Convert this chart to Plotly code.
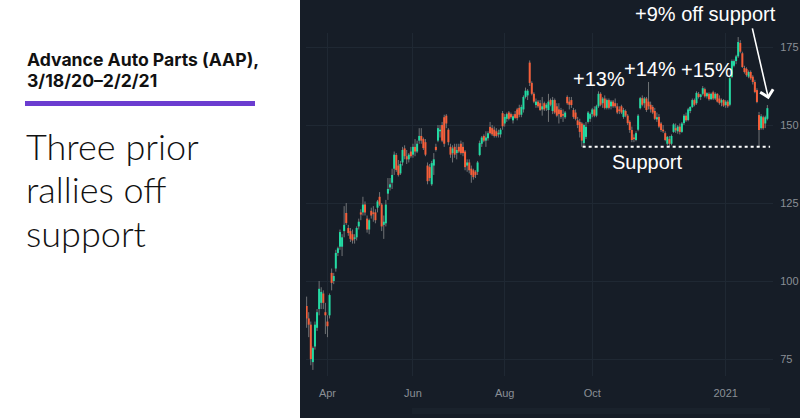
import pandas as pd
import plotly.graph_objects as go

# ---------------- data ----------------
holidays = ["2020-04-10", "2020-05-25", "2020-07-03", "2020-09-07",
            "2020-11-26", "2020-12-25", "2021-01-01", "2021-01-18"]

open_ = [92, 88, 86, 74, 79, 85, 91, 93, 96, 90, 87, 89, 102.6, 100, 104, 109, 111, 111, 116, 121.8,
         117, 116, 115, 113.5, 114, 117.5, 122, 122, 124.5, 120, 116.5, 122.5, 122, 122, 123.5, 127, 124.5, 118, 118.5, 128,
         130, 131.5, 136, 140.4, 137, 134.5, 138, 142.5, 140, 139, 141.5, 140.5, 143, 141.5, 145, 146.5, 145.5, 144.5, 137, 136.5,
         131, 137, 143, 145, 148, 150, 152.5, 153, 148.5, 143, 141, 143, 141, 143, 144, 143, 141.5, 137, 138, 136,
         135.5, 135, 135, 140.4, 144, 146.5, 145, 145.8, 149.4, 149, 148.5, 148, 147, 147, 153.8, 150.5, 152, 154, 153.5, 151.5,
         153.5, 155, 155.5, 153.3, 155, 159, 159.5, 170, 163.5, 160, 156.4, 157.5, 157, 155, 157, 155.5, 154.8, 158, 154.5, 158,
         156, 155, 154.8, 153.5, 152.5, 159, 157.5, 158, 154.8, 154, 151.5, 151, 150.5, 144.2, 146.2, 151, 152, 153.5, 155, 153,
         156, 160, 157, 158.5, 155.5, 158, 156, 157.5, 157, 156, 155, 156, 152.6, 154.5, 153, 151, 148.4, 146, 145.2, 148.5,
         155.4, 158.6, 157, 158.5, 157.5, 156.5, 155.8, 154.5, 151.8, 152.6, 150.5, 148.5, 147.4, 144, 145.5, 144, 147.8, 149, 148, 149.5,
         147.8, 150.6, 153, 151.6, 154.5, 155.8, 158, 157, 160, 159, 160, 161.5, 159.2, 160, 158.3, 160.5, 158.5, 160, 158.5, 157.2,
         158, 156.4, 157.5, 156.5, 165.4, 169, 170.5, 172, 176.3, 173, 168.3, 168, 165.5, 167, 165.5, 163.8, 161.2, 153.2, 149, 152.5,
         150.5, 152]
high = [95, 90, 87, 79, 87, 91, 100, 98, 97, 93, 89, 96, 104, 102.6, 110, 111, 116.5, 115, 124, 125,
        118, 117, 116.5, 115, 117.5, 120, 123, 127, 125.5, 121, 120, 123.5, 124, 123, 126, 128.5, 125, 121, 126, 133,
        133, 136, 141.5, 141, 138.8, 138.5, 143, 143.5, 142, 141, 143, 144, 145.5, 145, 149, 149, 146, 145.5, 138, 137.5,
        138.5, 141, 144, 150, 150, 151, 153.3, 153.5, 149, 144, 143.5, 144, 144, 144, 145, 144.5, 142, 139, 139, 137,
        136, 135.5, 138.5, 145, 146.5, 147, 148, 148, 151, 150, 149.5, 149, 148.5, 149, 154.5, 153.5, 154, 154.5, 154, 153.5,
        154.5, 155.5, 156.5, 156.5, 159.5, 162, 161.5, 170.7, 164, 160.5, 158.5, 158, 158, 159, 157.5, 157, 160, 158.5, 159, 158.5,
        157, 157, 155.5, 155, 154.5, 159.5, 159, 159, 155.5, 155, 152.6, 152, 151, 150.5, 151, 154.5, 154, 155.5, 156, 156.5,
        160.8, 160.5, 159, 159.5, 158.5, 158.5, 158, 158, 158.5, 157, 156, 156.5, 155.5, 155, 153.5, 151.5, 149.5, 147, 148, 153.5,
        159, 159.5, 159, 159, 163.8, 157.5, 156.4, 155.5, 154, 153.5, 151, 150, 148, 146.5, 146.5, 147, 150.6, 150.5, 150, 150.5,
        151, 153.5, 154, 155.5, 156, 158.5, 158.5, 160.8, 160.6, 160, 162.5, 162, 160.5, 160.5, 160.4, 161, 160.5, 160.2, 159.5, 158.5,
        158.3, 158, 158, 165.5, 171, 171, 172.5, 178.2, 177.2, 173.5, 169, 168.5, 167.5, 167.5, 166, 164.5, 161.8, 154.2, 153.5, 153,
        153, 156.4]
low = [85, 82, 73, 71.5, 78, 84, 89, 91, 91, 83, 82, 88, 97, 99, 103, 108, 110, 108, 114, 118,
       114.5, 112.5, 112, 112, 113, 116.5, 119.5, 121, 121, 115.5, 115, 120, 119, 118.5, 122, 124, 116, 113.5, 117.5, 126,
       129, 129.5, 134, 135, 133.5, 134, 137, 139, 137.5, 138, 139.5, 139.5, 140, 141, 144, 144, 142, 140, 131, 132,
       130.5, 134, 141.5, 144.5, 146, 144.5, 143, 149, 143.5, 139.5, 138, 139.5, 139, 141, 140.5, 140, 135.5, 135, 134.5, 131.5,
       132.5, 133, 134, 140, 143, 144.5, 143, 145, 147, 146.5, 146, 146, 146, 146, 148.5, 149.5, 151, 151.5, 152, 150.5,
       152, 151.5, 152.5, 152.5, 154, 158.5, 158, 162.5, 159.5, 157, 155.5, 155.5, 154.5, 153, 154.5, 154.5, 151, 156, 153.5, 153.5,
       152.5, 150.5, 152, 151, 152, 156.5, 155, 155.5, 152, 151.5, 149, 146, 143, 143, 145.5, 150.5, 151, 152.5, 152.5, 152.5,
       155.5, 156, 155.5, 155, 155, 155, 155, 155.5, 155.5, 153.5, 153.5, 153.5, 152, 152.5, 150, 147.5, 144.5, 144.5, 144.8, 148,
       155, 156, 155.5, 154.2, 155, 154, 153.5, 151.6, 151, 149, 147.8, 147.5, 144.8, 143.5, 143, 143.5, 147.5, 147.5, 147.2, 147,
       147.5, 150, 151, 151.2, 153.8, 155.5, 156, 156.5, 158.5, 158, 159.5, 158.8, 158.5, 157.8, 158, 158, 158, 157.2, 156.5, 156,
       155.8, 155.5, 155.5, 156, 165, 168.5, 169.5, 171.5, 173, 168.3, 166.5, 165.5, 165, 164.5, 163, 160.2, 157, 143, 148.5, 148.5,
       149, 151.5]
close = [88, 86, 75, 78.5, 86, 90, 97.5, 96.5, 93, 89, 85.5, 95.5, 99.4, 101.6, 109, 110.5, 115.7, 114, 118, 118.6,
         115.4, 113.5, 113, 114, 117, 119, 121.3, 124.5, 122, 116.5, 119.5, 121, 121.5, 119.5, 125.5, 124.5, 117.5, 119, 124.5, 129.5,
         131, 134, 140.5, 135.6, 134, 137.5, 142, 140, 139, 140.5, 140, 143, 141.5, 144, 146.5, 145, 142.6, 140.5, 132, 133,
         137.8, 139, 142, 149, 148.5, 145, 144, 150.5, 144.5, 140.5, 142.5, 140.5, 142, 141.5, 141, 141, 136.5, 138, 135.5, 134,
         133.3, 134, 138, 144.2, 146, 145, 146, 147.4, 147.4, 147, 146.5, 146.5, 147.5, 148.5, 149.6, 152.6, 153.5, 152, 152.5, 152.8,
         152.3, 152.2, 153.3, 155.8, 159, 161, 161, 163.5, 160, 157.5, 157.5, 156, 154.8, 156, 155, 156.5, 157.5, 156.5, 158, 154,
         153, 153.5, 152.6, 153, 154, 157, 156.5, 156.4, 152.6, 152, 150, 147.8, 145, 150, 149.4, 154, 153.5, 155, 153, 156,
         160, 156.5, 158.5, 155.5, 158, 155.5, 157.5, 156, 156, 154, 154.5, 154, 154.8, 153, 150.6, 148.4, 145.2, 145.5, 147.4, 153,
         158.6, 156.5, 158.5, 154.8, 156, 155, 154, 152, 152.5, 149.5, 148.4, 148, 145.2, 146.2, 144, 146.5, 150.2, 148.3, 149.5, 147.8,
         150.5, 153, 151.5, 155, 155.8, 158, 156.5, 160.3, 159, 159.8, 161.8, 159.2, 160.2, 158.3, 160, 158.5, 160, 157.5, 157, 158,
         156.2, 157.5, 156, 165, 170.5, 170.5, 172, 176.6, 173.5, 168.6, 167, 166, 167, 165, 163.8, 160.6, 157.4, 148.4, 152.8, 149,
         152.5, 155.4]

tick_dates = ["2020-04-01", "2020-06-01", "2020-08-03", "2020-10-01", "2021-01-04"]
tick_labels = ["Apr", "Jun", "Aug", "Oct", "2021"]
y_ticks = [75, 100, 125, 150, 175]
support_level = 143

# ---------------- trading-day index ----------------
days = pd.bdate_range("2020-03-18", "2021-02-02")
days = [d for d in days if d.strftime("%Y-%m-%d") not in holidays]
n = min(len(days), len(close))
date_str = [d.strftime("%Y-%m-%d") for d in days[:n]]
idx = list(range(n))
tick_idx = [date_str.index(t) for t in tick_dates]

GREEN = "#22dba3"
RED = "#f55f3a"
WICK = "#707376"
BG = "#161d27"
GRID = "#1f2833"
AXTXT = "#8a8f96"

# ---------------- layout geometry ----------------
W, H = 800, 418
L, R, T, B = 306, 27, 33, 42
pw, ph = W - L - R, H - T - B


def px(x):
    return (x - L) / pw


def py(y):
    return (H - B - y) / ph


fig = go.Figure()

# wicks
wx, wy = [], []
for i in range(n):
    wx += [idx[i], idx[i], None]
    wy += [low[i], high[i], None]
fig.add_trace(go.Scatter(x=wx, y=wy, mode="lines",
                         line=dict(color=WICK, width=1), hoverinfo="skip",
                         showlegend=False))

# bodies (drawn as thick segments above the wicks)
for up, col in [(True, GREEN), (False, RED)]:
    bx, by = [], []
    for i in range(n):
        if (close[i] >= open_[i]) == up:
            lo_b = min(open_[i], close[i])
            hi_b = max(open_[i], close[i])
            if hi_b - lo_b < 0.5:
                mid = (hi_b + lo_b) / 2
                lo_b, hi_b = mid - 0.25, mid + 0.25
            bx += [idx[i], idx[i], None]
            by += [lo_b, hi_b, None]
    fig.add_trace(go.Scatter(x=bx, y=by, mode="lines",
                             line=dict(color=col, width=2), hoverinfo="skip",
                             showlegend=False))

shapes = [
    # dark right-hand panel
    dict(type="rect", xref="paper", yref="paper", x0=px(300), x1=px(800),
         y0=py(418), y1=py(0), fillcolor=BG, line=dict(width=0), layer="below"),
    # scrollbar strip
    dict(type="rect", xref="paper", yref="paper", x0=px(412), x1=px(770),
         y0=py(414), y1=py(408), fillcolor="#1a222c", line=dict(width=0), layer="below"),
    # purple rule
    dict(type="rect", xref="paper", yref="paper", x0=px(25), x1=px(255),
         y0=py(106), y1=py(101), fillcolor="#6b3cd0", line=dict(width=0)),
    # support line
    dict(type="line", xref="x", yref="y", x0=132.4, x1=222.3,
         y0=support_level, y1=support_level,
         line=dict(color="white", width=2, dash="dot")),
]

WHITE_FONT = dict(family="Liberation Sans, Arial, sans-serif", size=20, color="white")
ann = [
    dict(text="+9% off support", x=px(705.5), y=py(13.5)),
    dict(text="+13%", x=px(598.5), y=py(79)),
    dict(text="+14%", x=px(649.5), y=py(69)),
    dict(text="+15%", x=px(707), y=py(70)),
    dict(text="Support", x=px(646.5), y=py(161.5)),
]
annotations = []
for a in ann:
    annotations.append(dict(text=a["text"], x=a["x"], y=a["y"], xref="paper", yref="paper",
                            xanchor="center", yanchor="middle", showarrow=False,
                            font=WHITE_FONT))

# arrow
annotations.append(dict(x=221.6, y=158.3, xref="x", yref="y", ax=-16.6, ay=-72.3,
                        axref="pixel", ayref="pixel", text="", showarrow=True,
                        arrowhead=4, arrowsize=1.6, arrowwidth=1.6, arrowcolor="white",
                        standoff=0))

# left side text
TITLE_FONT = dict(family="Inter, Roboto, sans-serif", size=17.6, color="#111111", weight=700)
BIG_FONT = dict(family="Lato, Inter, sans-serif", size=36, color="#111111", weight=300)
for txt, yy in [("Advance Auto Parts (AAP),", 59.5), ("3/18/20–2/2/21", 81)]:
    annotations.append(dict(text=txt, x=px(25), y=py(yy), xref="paper", yref="paper",
                            xanchor="left", yanchor="middle", showarrow=False,
                            font=TITLE_FONT))
for txt, yy in [("Three prior", 145.5), ("rallies off", 189), ("support", 232.5)]:
    annotations.append(dict(text=txt, x=px(25), y=py(yy), xref="paper", yref="paper",
                            xanchor="left", yanchor="middle", showarrow=False,
                            borderpad=0, font=BIG_FONT))

fig.update_layout(
    width=W, height=H,
    margin=dict(l=L, r=R, t=T, b=B, pad=0, autoexpand=False),
    paper_bgcolor="white", plot_bgcolor="rgba(0,0,0,0)",
    shapes=shapes, annotations=annotations,
    showlegend=False,
    hovermode=False,
    xaxis=dict(range=[-0.3, 223.7], tickmode="array", tickvals=tick_idx, ticktext=tick_labels,
               showgrid=True, gridcolor=GRID, gridwidth=1, zeroline=False, automargin=False,
               ticks="outside", ticklen=7, tickcolor="rgba(0,0,0,0)",
               tickfont=dict(family="Liberation Sans, Arial, sans-serif", size=11, color=AXTXT),
               showline=False, fixedrange=True),
    yaxis=dict(range=[69.55, 179.5], side="right", tickmode="array", tickvals=y_ticks,
               showgrid=True, gridcolor=GRID, gridwidth=1, zeroline=False, automargin=False,
               ticks="outside", ticklen=4, tickcolor="rgba(0,0,0,0)",
               tickfont=dict(family="Liberation Sans, Arial, sans-serif", size=11, color=AXTXT),
               showline=False, fixedrange=True),
)

fig.write_html("out.html", config={"displayModeBar": False},
               post_script="document.body.style.margin='0';document.body.style.overflow='hidden';")
